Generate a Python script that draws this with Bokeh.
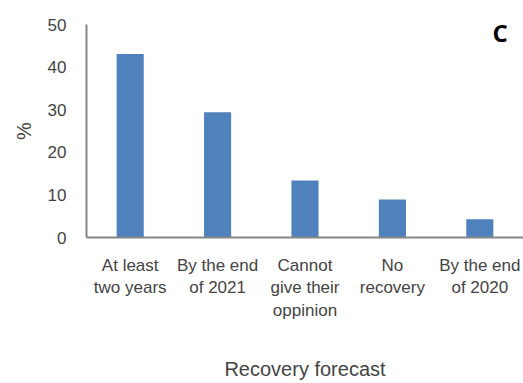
from bokeh.plotting import figure
from bokeh.models import FactorRange, Range1d, FixedTicker, Label, ColumnDataSource
from bokeh.embed import file_html
from bokeh.resources import INLINE

# Recovery forecast survey results (% of respondents)
categories = [
    "At least\ntwo years",
    "By the end\nof 2021",
    "Cannot\ngive their\noppinion",
    "No\nrecovery",
    "By the end\nof 2020",
]
percent = [43.1, 29.4, 13.4, 8.9, 4.3]
y_ticks = [0, 10, 20, 30, 40, 50]
panel_tag = "C"

FONT = "Liberation Sans"
AXIS = "#868686"
BAR = "#4F81BD"

source = ColumnDataSource(data=dict(cat=categories, pct=percent))

p = figure(
    width=523, height=383,
    x_range=FactorRange(factors=categories, range_padding=0),
    y_range=Range1d(0, 50),
    output_backend="svg", toolbar_location=None,
    min_border_left=86, min_border_right=0,
    min_border_top=24, min_border_bottom=145,
)
p.outline_line_color = None
p.xgrid.grid_line_color = None
p.ygrid.grid_line_color = None
p.background_fill_color = "white"
p.border_fill_color = "white"

p.vbar(x="cat", top="pct", width=0.31, source=source,
       fill_color=BAR, line_color=None)

# y axis
p.yaxis.ticker = FixedTicker(ticks=y_ticks)
p.yaxis.axis_label = "%"
p.yaxis.axis_label_text_font = FONT
p.yaxis.axis_label_text_font_style = "normal"
p.yaxis.axis_label_text_font_size = "20px"
p.yaxis.axis_label_standoff = 10
p.yaxis.major_label_text_font = FONT
p.yaxis.major_label_text_font_size = "17px"
p.yaxis.major_label_standoff = 20
p.yaxis.major_tick_in = 0
p.yaxis.major_tick_out = 0
p.yaxis.minor_tick_in = 0
p.yaxis.minor_tick_out = 0
p.yaxis.axis_line_color = AXIS
p.yaxis.axis_line_width = 2

# x axis: multi-line category names
p.xaxis.axis_label = "Recovery forecast"
p.xaxis.axis_label_text_font = FONT
p.xaxis.axis_label_text_font_style = "normal"
p.xaxis.axis_label_text_font_size = "20px"
p.xaxis.axis_label_standoff = 35
p.xaxis.major_label_text_font = FONT
p.xaxis.major_label_text_font_size = "17px"
p.xaxis.major_label_standoff = 18
p.xaxis.major_tick_in = 0
p.xaxis.major_tick_out = 0
p.xaxis.minor_tick_in = 0
p.xaxis.minor_tick_out = 0
p.xaxis.axis_line_color = AXIS
p.xaxis.axis_line_width = 2

p.add_layout(Label(x=4.82, y=52.1, text=panel_tag,
                   text_font="Open Sans", text_font_style="bold",
                   text_font_size="24px", text_align="right",
                   text_baseline="top", text_color="black"))

open("out.html", "w").write(file_html(p, INLINE))
